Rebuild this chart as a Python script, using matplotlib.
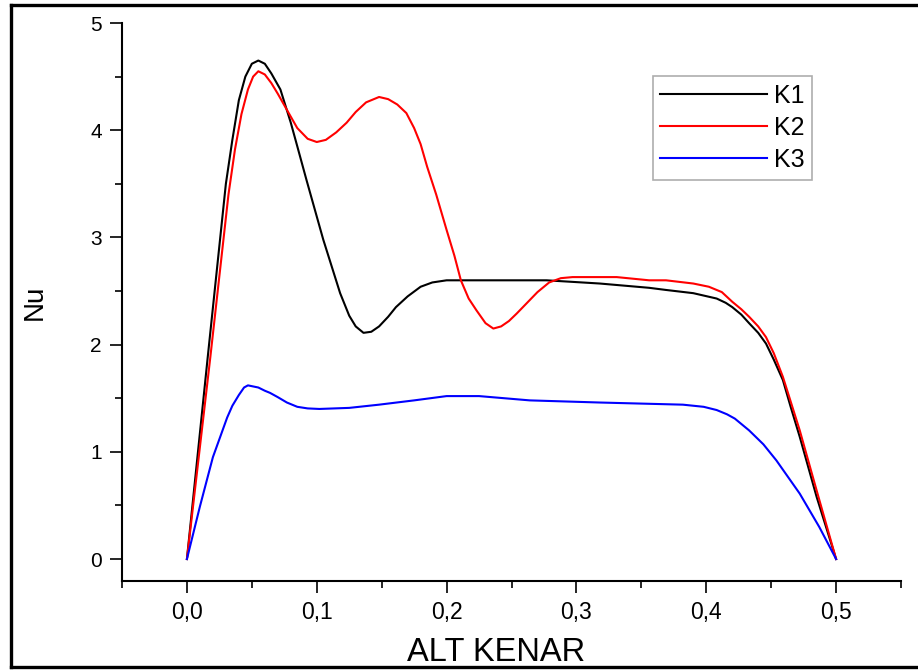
import matplotlib.pyplot as plt
from matplotlib.lines import Line2D
from matplotlib.ticker import MultipleLocator, FuncFormatter

plt.rcParams['font.family'] = ['Liberation Sans', 'DejaVu Sans']

k1_x = [0.0, 0.016, 0.03, 0.035, 0.04, 0.045, 0.05, 0.055, 0.06, 0.065, 0.072, 0.08,
        0.085, 0.092, 0.105, 0.118, 0.125, 0.13, 0.136, 0.142, 0.148, 0.155, 0.161,
        0.17, 0.18, 0.189, 0.2, 0.24, 0.277, 0.318, 0.356, 0.369, 0.39, 0.408, 0.415,
        0.42, 0.427, 0.433, 0.44, 0.446, 0.452, 0.459, 0.465, 0.472, 0.485, 0.5]
k1_y = [0.0, 1.88, 3.5, 3.91, 4.28, 4.5, 4.62, 4.65, 4.62, 4.53, 4.38, 4.07,
        3.85, 3.54, 2.98, 2.48, 2.27, 2.17, 2.11, 2.12, 2.17, 2.26, 2.35,
        2.45, 2.54, 2.58, 2.60, 2.60, 2.60, 2.57, 2.53, 2.51, 2.48, 2.43, 2.39,
        2.35, 2.28, 2.20, 2.11, 2.01, 1.86, 1.67, 1.42, 1.14, 0.58, 0.0]

k2_x = [0.0, 0.018, 0.032, 0.037, 0.042, 0.047, 0.051, 0.055, 0.06, 0.065, 0.07, 0.077,
        0.085, 0.093, 0.1, 0.107, 0.115, 0.123, 0.13, 0.138, 0.148, 0.155, 0.162, 0.169,
        0.175, 0.18, 0.185, 0.192, 0.2, 0.206, 0.211, 0.217, 0.223, 0.23, 0.236, 0.242,
        0.248, 0.254, 0.262, 0.27, 0.279, 0.288, 0.297, 0.331, 0.356, 0.369, 0.39, 0.402,
        0.412, 0.42, 0.427, 0.433, 0.44, 0.446, 0.452, 0.459, 0.465, 0.472, 0.485, 0.5]
k2_y = [0.0, 1.88, 3.4, 3.82, 4.15, 4.38, 4.5, 4.55, 4.52, 4.44, 4.34, 4.19,
        4.02, 3.92, 3.89, 3.91, 3.98, 4.07, 4.17, 4.26, 4.31, 4.29, 4.24, 4.16,
        4.02, 3.87, 3.66, 3.4, 3.07, 2.83, 2.60, 2.43, 2.32, 2.20, 2.15, 2.17,
        2.22, 2.29, 2.39, 2.49, 2.58, 2.62, 2.63, 2.63, 2.60, 2.60, 2.57, 2.54,
        2.49, 2.40, 2.33, 2.26, 2.17, 2.07, 1.92, 1.70, 1.47, 1.20, 0.64, 0.0]

k3_x = [0.0, 0.01, 0.02, 0.031, 0.035, 0.04, 0.044, 0.047, 0.051, 0.055, 0.06, 0.064,
        0.07, 0.077, 0.085, 0.093, 0.102, 0.125, 0.148, 0.175, 0.2, 0.225, 0.264, 0.318,
        0.382, 0.398, 0.408, 0.416, 0.422, 0.433, 0.444, 0.454, 0.472, 0.487, 0.5]
k3_y = [0.0, 0.49, 0.95, 1.32, 1.43, 1.53, 1.6, 1.62, 1.61, 1.6, 1.57, 1.55,
        1.51, 1.46, 1.42, 1.405, 1.40, 1.41, 1.44, 1.48, 1.52, 1.52, 1.48, 1.46,
        1.44, 1.42, 1.39, 1.35, 1.31, 1.20, 1.07, 0.92, 0.61, 0.30, 0.0]

fig = plt.figure(figsize=(9.18, 6.71), dpi=100)
ax = fig.add_axes([0.1329, 0.1341, 0.8486, 0.8316])

ax.plot(k1_x, k1_y, color='black', lw=1.5, label='K1')
ax.plot(k2_x, k2_y, color='#ff0000', lw=1.5, label='K2')
ax.plot(k3_x, k3_y, color='#0000ff', lw=1.5, label='K3')

ax.set_xlim(-0.05, 0.55)
ax.set_ylim(-0.205, 5)
ax.spines['top'].set_visible(False)
ax.spines['right'].set_visible(False)
ax.spines['left'].set_linewidth(1.5)
ax.spines['bottom'].set_linewidth(1.5)

ax.xaxis.set_major_locator(MultipleLocator(0.1))
ax.xaxis.set_minor_locator(MultipleLocator(0.05))
ax.yaxis.set_major_locator(MultipleLocator(1))
ax.yaxis.set_minor_locator(MultipleLocator(0.5))
ax.xaxis.set_major_formatter(FuncFormatter(lambda v, p: f'{v:.1f}'.replace('.', ',')))
ax.yaxis.set_major_formatter(FuncFormatter(lambda v, p: f'{v:.0f}'))
ax.tick_params(which='major', direction='out', length=8.5, width=1.2, pad=6)
ax.tick_params(which='minor', direction='out', length=5, width=1.2)
ax.tick_params(axis='x', labelsize=16.5)
ax.tick_params(axis='y', labelsize=15)

ax.set_xlabel('ALT KENAR', fontsize=23.5)
ax.set_ylabel('Nu', fontsize=20)
ax.xaxis.set_label_coords(0.48, -0.1)
ax.yaxis.set_label_coords(-0.095, 0.5)

leg = ax.legend(loc='upper left', bbox_to_anchor=(0.6816, 0.905), fontsize=18,
                fancybox=False, frameon=True, handlelength=4.25, handletextpad=0.3,
                labelspacing=0.33, borderpad=0.3, borderaxespad=0)
leg.get_frame().set_edgecolor('#999999')
leg.get_frame().set_linewidth(1.2)

# outer frame
for xs, ys in [([0.012, 0.012], [0.006, 0.9925]),
               ([0.012, 1.0], [0.9925, 0.9925]),
               ([0.012, 1.0], [0.006, 0.006])]:
    fig.add_artist(Line2D(xs, ys, color='black', lw=2.4, transform=fig.transFigure))

fig.savefig('out.png', dpi=100)
